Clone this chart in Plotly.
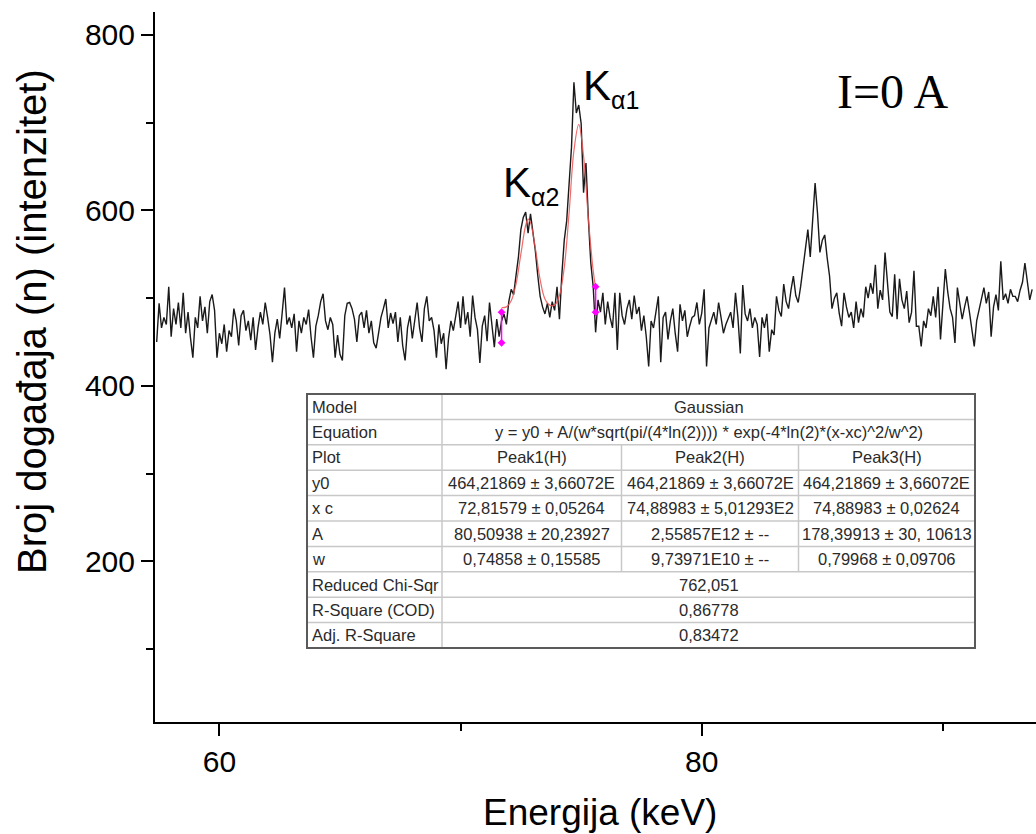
"""Spektar - Energija (keV) x Broj događaja, Gaussian fit Kα1/Kα2 s tablicom parametara."""
import plotly.graph_objects as go

# podaci (kanali po 0.1 keV, od 57.4 keV)
E_START = 57.4
E_STEP = 0.1
counts = [
    450, 494, 466, 478, 470, 513,                              # 57.4-57.9
    456, 488, 470, 495, 466, 506, 460, 484, 455, 432,          # 58
    478, 466, 502, 474, 490, 460, 496, 504, 486, 432,          # 59
    460, 448, 470, 439, 463, 456, 488, 474, 446, 480,          # 60
    486, 463, 474, 452, 478, 441, 466, 484, 470, 495,          # 61
    478, 458, 427, 460, 476, 454, 482, 512, 470, 478,          # 62
    466, 482, 439, 474, 460, 478, 470, 487, 456, 432,          # 63
    468, 480, 496, 505, 474, 464, 478, 470, 432, 458,          # 64
    436, 429, 480, 494, 495, 488, 476, 450, 480, 484,          # 65
    466, 486, 460, 474, 449, 443, 460, 478, 488, 499,          # 66
    466, 483, 471, 484, 450, 478, 446, 429, 466, 480,          # 67
    454, 473, 495, 466, 450, 488, 502, 474, 478, 463,          # 68
    432, 470, 448, 460, 419, 454, 474, 463, 480, 496,          # 69
    466, 502, 470, 484, 456, 503, 478, 464, 426, 468,          # 70
    480, 451, 495, 468, 444, 476, 456, 474, 482, 470,          # 71
    496, 510, 504, 526, 547, 578, 592, 598, 574, 596,          # 72
    576, 554, 526, 502, 490, 482, 494, 478, 496, 486,          # 73
    513, 476, 527, 566, 588, 626, 672, 746, 711, 720,          # 74
    699, 620, 654, 590, 540, 513, 461, 498, 484, 506,          # 75
    470, 496, 478, 466, 506, 441, 506, 480, 470, 488,          # 76
    498, 476, 503, 482, 490, 463, 480, 456, 422, 474,          # 77
    466, 484, 502, 427, 478, 484, 453, 474, 488, 460,          # 78
    439, 493, 474, 486, 456, 468, 478, 480, 495, 470,          # 79
    483, 510, 422, 466, 476, 484, 470, 495, 478, 460,          # 80
    470, 476, 484, 466, 506, 478, 437, 515, 482, 474,          # 81
    488, 466, 478, 470, 433, 478, 466, 482, 439, 464,          # 82
    458, 502, 486, 479, 516, 496, 488, 509, 525, 503,          # 83
    495, 513, 536, 552, 578, 547, 587, 631, 597, 552,          # 84
    566, 572, 546, 525, 488, 500, 506, 483, 468, 506,          # 85
    490, 478, 484, 466, 496, 472, 488, 478, 513, 500,          # 86
    517, 505, 538, 488, 509, 498, 552, 517, 484, 479,          # 87
    527, 476, 522, 498, 488, 508, 472, 484, 531, 468,          # 88
    468, 445, 474, 466, 488, 480, 502, 478, 513, 453,          # 89
    496, 533, 507, 488, 478, 449, 512, 496, 476, 490,          # 90
    502, 484, 466, 445, 474, 488, 500, 512, 494, 507,          # 91
    456, 490, 504, 486, 542, 498, 505, 494, 510, 502,          # 92
    502, 496, 509, 518, 540, 517, 498, 510,                    # 93.0-93.7
]

# krivulja fita (očitano sa slike)
fit_x = [71.7, 71.9, 72.1, 72.3, 72.5, 72.7, 72.8, 72.9, 73.1, 73.3, 73.5,
         73.7, 73.9, 74.1, 74.3, 74.5, 74.7, 74.9, 75.1, 75.3, 75.5, 75.6]
fit_y = [489, 490, 497, 516, 550, 583, 590, 586, 557, 521, 499,
         492, 492, 503, 535, 597, 668, 698, 662, 590, 531, 512]

# granice fita (magenta oznake)
range_x = [71.7, 75.6]
range_lo = [449, 484]
range_hi = [484, 513]

# tablica
table_rows = [
    ("Model", ["Gaussian"]),
    ("Equation", ["y = y0 + A/(w*sqrt(pi/(4*ln(2)))) * exp(-4*ln(2)*(x-xc)^2/w^2)"]),
    ("Plot", ["Peak1(H)", "Peak2(H)", "Peak3(H)"]),
    ("y0", ["464,21869 ± 3,66072E", "464,21869 ± 3,66072E", "464,21869 ± 3,66072E"]),
    ("x c", ["72,81579 ± 0,05264", "74,88983 ± 5,01293E2", "74,88983 ± 0,02624"]),
    ("A", ["80,50938 ± 20,23927", "2,55857E12 ± --", "178,39913 ± 30, 10613"]),
    ("w", ["0,74858 ± 0,15585", "9,73971E10 ± --", "0,79968 ± 0,09706"]),
    ("Reduced Chi-Sqr", ["762,051"]),
    ("R-Square (COD)", ["0,86778"]),
    ("Adj. R-Square", ["0,83472"]),
]

FONT = "Liberation Sans, Arial, sans-serif"
W, H = 1036, 834
PL, PR, PT, PB = 155, 1036, 12, 722


def px(x):
    return (x - PL) / (PR - PL)


def py(y):
    return (PB - y) / (PB - PT)


fig = go.Figure()
fig.add_trace(go.Scatter(
    x0=E_START, dx=E_STEP, y=counts, mode="lines",
    line=dict(color="#1a1a1a", width=1.4), showlegend=False,
))
fig.add_trace(go.Scatter(
    x=fit_x, y=fit_y, mode="lines", line_shape="spline",
    line=dict(color="rgba(240,80,80,0.85)", width=1.2), showlegend=False,
))
for xr, lo, hi in zip(range_x, range_lo, range_hi):
    fig.add_trace(go.Scatter(
        x=[xr, xr], y=[lo, hi], mode="lines+markers",
        line=dict(color="#ff00ff", width=1.5),
        marker=dict(color="#ff00ff", size=6, symbol="diamond"),
        showlegend=False,
    ))

# tablica parametara
TX = [307, 442, 621.5, 798.5, 975]
TTOP, RH = 394, 25.4
n = len(table_rows)
fig.add_shape(type="rect", xref="paper", yref="paper",
              x0=px(TX[0]), x1=px(TX[-1]), y0=py(TTOP + n * RH), y1=py(TTOP),
              fillcolor="white", line=dict(color="#bdbdbd", width=1))
for i in range(1, n):
    yy = py(TTOP + i * RH)
    fig.add_shape(type="line", xref="paper", yref="paper", x0=px(TX[0]), x1=px(TX[-1]),
                  y0=yy, y1=yy, line=dict(color="#c8c8c8", width=1.5))
fig.add_shape(type="line", xref="paper", yref="paper", x0=px(TX[1]), x1=px(TX[1]),
              y0=py(TTOP), y1=py(TTOP + n * RH), line=dict(color="#c8c8c8", width=1.5))
for k in (2, 3):
    fig.add_shape(type="line", xref="paper", yref="paper", x0=px(TX[k]), x1=px(TX[k]),
                  y0=py(TTOP + 2 * RH), y1=py(TTOP + 7 * RH), line=dict(color="#c8c8c8", width=1.5))
fig.add_shape(type="rect", xref="paper", yref="paper",
              x0=px(TX[0]), x1=px(TX[-1]), y0=py(TTOP + n * RH), y1=py(TTOP),
              line=dict(color="#5a5a5a", width=2))

cell_font = dict(family=FONT, size=16.5, color="#2a2a2a")
for i, (label, vals) in enumerate(table_rows):
    yc = py(TTOP + (i + 0.5) * RH)
    fig.add_annotation(x=px(TX[0] + 3), y=yc, xref="paper", yref="paper", text=label,
                       xanchor="left", yanchor="middle", showarrow=False, font=cell_font)
    if len(vals) == 1:
        fig.add_annotation(x=px((TX[1] + TX[4]) / 2), y=yc, xref="paper", yref="paper",
                           text=vals[0], xanchor="center", yanchor="middle",
                           showarrow=False, font=cell_font)
    else:
        for k, v in enumerate(vals):
            fig.add_annotation(x=px((TX[k + 1] + TX[k + 2]) / 2), y=yc, xref="paper", yref="paper",
                               text=v, xanchor="center", yanchor="middle",
                               showarrow=False, font=cell_font)

# oznake vrhova
sub = "<sub><span style='font-size:25px'>%s</span></sub>"
fig.add_annotation(x=px(501), y=py(185), xref="paper", yref="paper", text="K" + sub % "α2",
                   xanchor="left", yanchor="middle", showarrow=False,
                   font=dict(family=FONT, size=42, color="black"))
fig.add_annotation(x=px(581), y=py(88), xref="paper", yref="paper", text="K" + sub % "α1",
                   xanchor="left", yanchor="middle", showarrow=False,
                   font=dict(family=FONT, size=42, color="black"))
fig.add_annotation(x=px(892), y=py(92), xref="paper", yref="paper", text="I=0 A",
                   xanchor="center", yanchor="middle", showarrow=False,
                   font=dict(family="Liberation Serif, Times New Roman, serif", size=48, color="black"))

# naslovi osi
fig.add_annotation(x=px(600), y=py(812), xref="paper", yref="paper", text="Energija (keV)",
                   xanchor="center", yanchor="middle", showarrow=False,
                   font=dict(family=FONT, size=37, color="black"))
fig.add_annotation(x=px(32), y=py(322), xref="paper", yref="paper",
                   text="Broj događaja (n) (intenzitet)", textangle=-90,
                   xanchor="center", yanchor="middle", showarrow=False,
                   font=dict(family=FONT, size=40, color="black"))

axis_common = dict(showline=True, linecolor="black", linewidth=2, showgrid=False,
                   zeroline=False, ticks="outside", ticklen=12, tickwidth=2, tickcolor="black",
                   tickfont=dict(family=FONT, size=30, color="black"), mirror=False)
fig.update_xaxes(range=[57.33, 93.86], tick0=0, dtick=20,
                 minor=dict(dtick=10, ticklen=7, tickwidth=2, tickcolor="black", ticks="outside"),
                 **axis_common)
fig.update_yaxes(range=[17, 826], tick0=0, dtick=200,
                 minor=dict(dtick=100, ticklen=7, tickwidth=2, tickcolor="black", ticks="outside"),
                 **axis_common)
fig.update_layout(width=W, height=H, margin=dict(l=PL, r=W - PR, t=PT, b=H - PB),
                  paper_bgcolor="white", plot_bgcolor="white", showlegend=False)

fig.write_html("out.html", config={"displayModeBar": False},
               post_script="document.body.style.margin='0';"
                           "document.body.style.overflow='hidden';")
